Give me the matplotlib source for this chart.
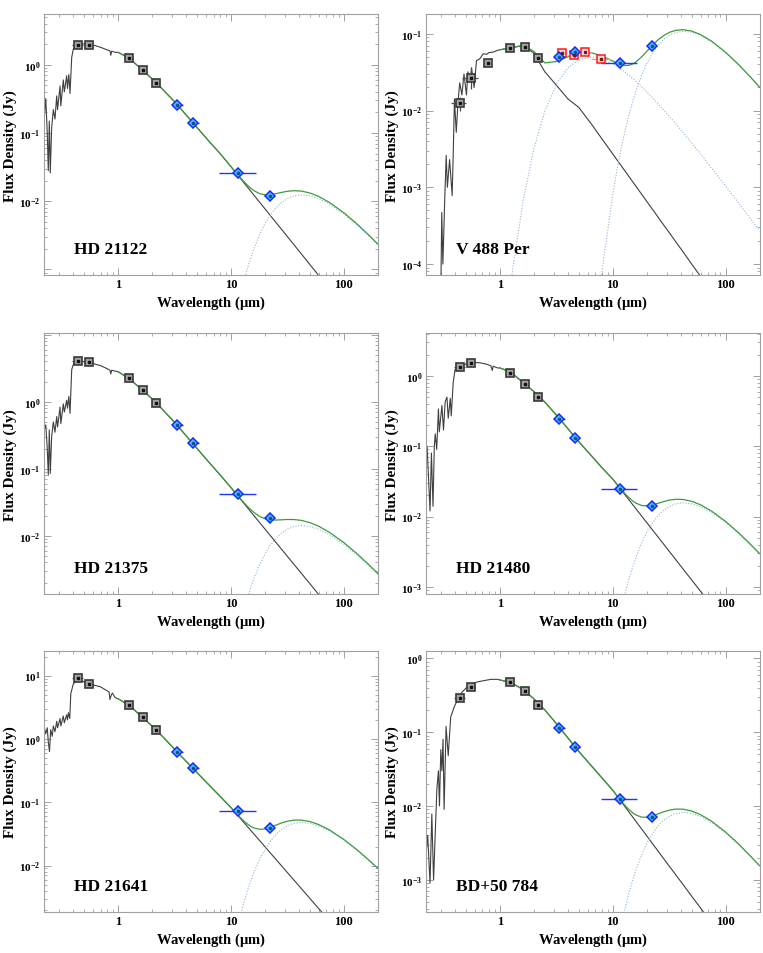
import numpy as np
import matplotlib
matplotlib.use('Agg')
import matplotlib.pyplot as plt
from matplotlib.ticker import LogLocator, FuncFormatter, NullFormatter

plt.rcParams['font.family'] = ['Liberation Serif', 'DejaVu Serif']
plt.rcParams['font.weight'] = 'bold'
plt.rcParams['mathtext.fontset'] = 'custom'
plt.rcParams['mathtext.rm'] = 'Liberation Serif:bold'
plt.rcParams['mathtext.bf'] = 'Liberation Serif:bold'
plt.rcParams['mathtext.it'] = 'Liberation Serif:bold'

# common wavelength grid (micron) for the long-wavelength models
LAM_MODEL = [1.0, 1.25, 1.6, 2.0, 2.5, 3.2, 4.0, 5.0, 6.5, 8.0, 10, 11, 12, 13, 14, 15, 16,
             18, 20, 22, 25, 28, 32, 36, 42, 50, 60, 75, 100, 130, 165, 200]

OPT_LAM = [0.44, 0.55, 1.235, 1.662, 2.159]
OPT_LO = [0.39, 0.50, 1.17, 1.56, 2.05]
OPT_HI = [0.49, 0.60, 1.31, 1.77, 2.29]
WISE_LAM = [3.35, 4.6, 11.56, 22.08]
WISE_LO = [3.07, 4.17, 7.8, 20.3]
WISE_HI = [3.78, 5.17, 16.5, 24.2]
IRAC_LAM = [3.55, 4.49, 5.73, 7.87]
IRAC_LO = [3.2, 4.0, 5.0, 6.4]
IRAC_HI = [3.9, 5.0, 6.4, 9.4]

# ---------------- HD 21122
HD21122_UV_LAM = [0.222, 0.228, 0.235, 0.24, 0.245, 0.25, 0.257, 0.266, 0.275, 0.285, 0.29, 0.305,
                  0.31, 0.326, 0.333, 0.349, 0.355, 0.365, 0.374, 0.387, 0.40, 0.414, 0.44, 0.48,
                  0.53, 0.60, 0.70, 0.80, 0.845, 0.86, 0.875, 0.95]
HD21122_UV_FLUX = [0.18, 0.32, 0.1, 0.028, 0.15, 0.026, 0.12, 0.22, 0.16, 0.35, 0.22, 0.49,
                   0.25, 0.6, 0.4, 0.69, 0.45, 0.72, 0.38, 1.28, 1.7, 1.85, 1.95, 2.02,
                   2.05, 1.95, 1.8, 1.65, 1.6, 1.38, 1.58, 1.52]
HD21122_STAR = [1.52, 1.25, 0.87, 0.62, 0.43, 0.281, 0.184, 0.12, 0.073, 0.050, 0.032, 0.0263,
                0.0220, 0.01869, 0.01605, 0.01394, 0.01221, 0.00959, 0.00773, 0.00636, 0.00489,
                0.00388, 0.00295, 0.00232, 0.00169, 0.00118, 8.12e-4, 5.14e-4, 2.85e-4, 1.66e-4,
                1.02e-4, 6.9e-5]
HD21122_DUST = [1e-12, 1e-12, 1e-12, 1e-12, 1e-12, 1e-12, 1e-12, 4.6e-9, 5.3e-7, 9.0e-6, 9.3e-5,
                2.09e-4, 3.97e-4, 6.76e-4, 1.047e-3, 1.50e-3, 2.04e-3, 3.30e-3, 4.69e-3, 6.09e-3,
                8.02e-3, 9.59e-3, 0.01109, 0.01195, 0.0124, 0.01203, 0.01092, 0.00903, 0.00649,
                0.00452, 0.00313, 0.00229]
HD21122_OPT = [1.92, 1.96, 1.25, 0.83, 0.545]
HD21122_WISE = [0.26, 0.14, 0.0257, 0.0121]

# ---------------- V 488 Per
V488_UV_LAM = [0.24, 0.29, 0.30, 0.305, 0.312, 0.325, 0.334, 0.342, 0.358, 0.377, 0.386, 0.395,
               0.41, 0.425, 0.44, 0.46, 0.48, 0.505, 0.52, 0.545, 0.56, 0.59, 0.62, 0.66, 0.71,
               0.76, 0.80, 0.88, 0.95]
V488_UV_FLUX = [1e-5, 1e-5, 6e-5, 4.7e-4, 1e-4, 8e-4, 2.6e-3, 1.0e-3, 2.3e-3, 7.8e-4, 3e-3, 0.0142,
                5.2e-3, 0.013, 0.023, 0.016, 0.03, 0.016, 0.032, 0.024, 0.036, 0.020, 0.045, 0.047,
                0.055, 0.054, 0.057, 0.058, 0.061]
V488_STAR = [0.062, 0.066, 0.070, 0.056, 0.032, 0.021, 0.0142, 0.011, 0.0066, 0.0043, 0.00272,
             2.237e-3, 1.871e-3, 1.588e-3, 1.365e-3, 1.185e-3, 1.038e-3, 8.15e-4, 6.57e-4, 5.4e-4,
             4.16e-4, 3.29e-4, 2.51e-4, 1.97e-4, 1.44e-4, 1.0e-4, 6.91e-5, 4.37e-5, 2.42e-5,
             1.41e-5, 8.7e-6, 5.8e-6]
V488_WARM = [3.1e-6, 5.9e-5, 6.56e-4, 3.19e-3, 9.85e-3, 0.0227, 0.0361, 0.0461, 0.05, 0.0472,
             0.0406, 0.0372, 0.0341, 0.0312, 0.0285, 0.0262, 0.0241, 0.0205, 0.01754, 0.0152,
             0.01244, 0.01035, 0.00828, 0.00678, 0.00517, 0.00378, 0.00272, 0.00179, 0.00104,
             6.28e-4, 3.95e-4, 2.72e-4]
V488_COOL = [1e-12, 1e-12, 1e-12, 1e-12, 1e-12, 1e-12, 1e-12, 4e-8, 4.6e-6, 7.84e-5, 8.07e-4,
             1.82e-3, 3.46e-3, 5.89e-3, 9.12e-3, 0.01307, 0.0178, 0.02877, 0.04082, 0.05307,
             0.06984, 0.08355, 0.09655, 0.1041, 0.108, 0.1048, 0.09515, 0.07868, 0.05655,
             0.03934, 0.0273, 0.01996]
V488_OPT_LAM = [0.44, 0.55, 0.79, 1.235, 1.662, 2.159]
V488_OPT_LO = [0.37, 0.46, 0.75, 1.17, 1.56, 2.05]
V488_OPT_HI = [0.50, 0.64, 0.84, 1.31, 1.77, 2.29]
V488_OPT = [0.0125, 0.0268, 0.0419, 0.0657, 0.0684, 0.049]
V488_OPT_YLO = [0.0100, 0.019, 0.038, 0.062, 0.065, 0.046]
V488_OPT_YHI = [0.0149, 0.037, 0.046, 0.069, 0.072, 0.052]
V488_WISE = [0.0501, 0.0577, 0.0415, 0.0705]
V488_IRAC = [0.056, 0.0537, 0.0577, 0.0472]

# ---------------- HD 21375
HD21375_UV_LAM = HD21122_UV_LAM
HD21375_UV_FLUX = [0.4, 0.45, 0.2, 0.08, 0.38, 0.085, 0.3, 0.5, 0.35, 0.6, 0.42, 0.83,
                   0.47, 0.93, 0.7, 1.05, 0.8, 1.2, 0.67, 3.0, 3.6, 3.9, 4.15, 4.0,
                   3.9, 3.7, 3.45, 3.1, 2.95, 2.6, 2.95, 2.85]
HD21375_STAR = [2.8, 2.2, 1.55, 1.10, 0.75, 0.48, 0.31, 0.20, 0.12, 0.081, 0.052, 0.0428, 0.0358,
                0.0304, 0.0261, 0.02265, 0.01984, 0.01558, 0.01256, 0.01033, 0.00795, 0.0063,
                0.00479, 0.00376, 0.00275, 0.00192, 0.00132, 8.36e-4, 4.63e-4, 2.7e-4, 1.66e-4,
                1.12e-4]
HD21375_DUST = [1e-12, 1e-12, 1e-12, 1e-12, 1e-12, 1e-12, 1e-12, 5.3e-9, 6.1e-7, 1.03e-5, 1.06e-4,
                2.39e-4, 4.54e-4, 7.74e-4, 1.2e-3, 1.72e-3, 2.34e-3, 3.78e-3, 5.37e-3, 6.98e-3,
                9.18e-3, 0.01099, 0.0127, 0.01369, 0.0142, 0.01377, 0.01251, 0.01034, 0.00744,
                0.00517, 0.00359, 0.00262]
HD21375_OPT = [4.11, 3.92, 2.23, 1.51, 0.955]
HD21375_WISE = [0.442, 0.243, 0.0414, 0.0183]

# ---------------- HD 21480
HD21480_UV_LAM = [0.22, 0.226, 0.232, 0.24, 0.247, 0.255, 0.262, 0.267, 0.275, 0.285, 0.29, 0.306,
                  0.316, 0.327, 0.339, 0.348, 0.363, 0.37, 0.385, 0.40, 0.42, 0.446, 0.50, 0.55,
                  0.65, 0.75, 0.83, 0.855, 0.87, 0.93, 0.96]
HD21480_UV_FLUX = [0.06, 0.1, 0.04, 0.012, 0.08, 0.014, 0.1, 0.15, 0.09, 0.34, 0.16, 0.38,
                   0.17, 0.43, 0.5, 0.25, 0.48, 0.27, 0.8, 1.24, 1.3, 1.37, 1.48, 1.55,
                   1.55, 1.48, 1.4, 1.2, 1.38, 1.32, 1.3]
HD21480_STAR = [1.30, 1.13, 0.81, 0.60, 0.425, 0.272, 0.178, 0.116, 0.0725, 0.0498, 0.034, 0.0280,
                0.0234, 0.01986, 0.01706, 0.01481, 0.01297, 0.01019, 0.00821, 0.00675, 0.0052,
                0.00412, 0.00313, 0.00246, 0.00179, 0.001255, 8.63e-4, 5.46e-4, 3.03e-4, 1.77e-4,
                1.085e-4, 7.31e-5]
HD21480_DUST = [1e-12, 1e-12, 1e-12, 1e-12, 1e-12, 1e-12, 1e-12, 5.8e-9, 6.8e-7, 1.14e-5, 1.18e-4,
                2.64e-4, 5.02e-4, 8.56e-4, 1.33e-3, 1.9e-3, 2.59e-3, 4.18e-3, 5.93e-3, 7.71e-3,
                0.01015, 0.01215, 0.01404, 0.01513, 0.0157, 0.01523, 0.01383, 0.01144, 0.00822,
                0.00572, 0.00397, 0.0029]
HD21480_OPT = [1.32, 1.55, 1.12, 0.762, 0.51]
HD21480_WISE = [0.242, 0.133, 0.025, 0.0139]

# ---------------- HD 21641
HD21641_UV_LAM = [0.222, 0.228, 0.235, 0.24, 0.246, 0.252, 0.26, 0.266, 0.275, 0.285, 0.29, 0.305,
                  0.31, 0.326, 0.333, 0.349, 0.355, 0.362, 0.372, 0.38, 0.40, 0.42, 0.44, 0.48,
                  0.53, 0.60, 0.69, 0.78, 0.83, 0.845, 0.87, 0.89, 0.93, 0.96]
HD21641_UV_FLUX = [1.48, 1.2, 1.5, 0.9, 0.63, 1.4, 1.1, 1.6, 1.3, 1.9, 1.5, 2.1,
                   1.6, 2.3, 1.8, 2.4, 2.0, 2.6, 2.1, 5.2, 7.4, 8.0, 8.4, 8.2,
                   7.6, 7.1, 6.7, 5.9, 5.5, 4.2, 5.0, 5.3, 4.6, 4.4]
HD21641_STAR = [4.3, 3.4, 2.29, 1.59, 1.07, 0.673, 0.443, 0.293, 0.181, 0.124, 0.082, 0.06745,
                0.0564, 0.0479, 0.04114, 0.03571, 0.03129, 0.02458, 0.0198, 0.01629, 0.01254,
                0.00993, 0.00755, 0.00594, 0.00433, 0.00303, 0.00208, 0.00132, 7.31e-4, 4.26e-4,
                2.62e-4, 1.76e-4]
HD21641_DUST = [1e-12, 1e-12, 1e-12, 1e-12, 1e-12, 1e-12, 1e-12, 1.8e-8, 2.06e-6, 3.48e-5, 3.6e-4,
                8.07e-4, 1.54e-3, 2.62e-3, 4.05e-3, 5.81e-3, 7.91e-3, 0.01279, 0.01814, 0.02359,
                0.03104, 0.03713, 0.04291, 0.04627, 0.048, 0.04656, 0.04229, 0.03497, 0.02513,
                0.01749, 0.01213, 0.00887]
HD21641_OPT = [9.1, 7.5, 3.44, 2.2, 1.37]
HD21641_WISE = [0.616, 0.353, 0.072, 0.0388]

# ---------------- BD+50 784
BD50_UV_LAM = [0.22, 0.229, 0.24, 0.249, 0.258, 0.276, 0.285, 0.291, 0.299, 0.306, 0.313, 0.32,
               0.333, 0.348, 0.366, 0.393, 0.424, 0.462, 0.53, 0.63, 0.83, 0.95]
BD50_UV_FLUX = [2e-3, 4e-3, 9e-4, 7.8e-3, 1e-3, 0.017, 0.03, 0.01, 0.058, 0.03, 0.08, 0.009,
                0.12, 0.048, 0.16, 0.22, 0.28, 0.35, 0.43, 0.48, 0.52, 0.52]
BD50_STAR = [0.51, 0.47, 0.379, 0.283, 0.20, 0.128, 0.0837, 0.0548, 0.0347, 0.0241, 0.0163,
             0.01341, 0.01121, 0.00952, 0.00818, 0.0071, 0.00622, 0.00489, 0.00394, 0.00324,
             0.00249, 0.00197, 0.0015, 0.00118, 8.61e-4, 6.01e-4, 4.14e-4, 2.62e-4, 1.45e-4,
             8.48e-5, 5.2e-5, 3.5e-5]
BD50_DUST = [1e-12, 1e-12, 1e-12, 1e-12, 1e-12, 1e-12, 1e-12, 3e-9, 3.5e-7, 5.95e-6, 6.15e-5,
             1.38e-4, 2.62e-4, 4.47e-4, 6.92e-4, 9.92e-4, 1.35e-3, 2.18e-3, 3.1e-3, 4.03e-3,
             5.3e-3, 6.34e-3, 7.33e-3, 7.9e-3, 0.0082, 7.95e-3, 7.22e-3, 5.97e-3, 4.29e-3,
             2.99e-3, 2.07e-3, 1.52e-3]
BD50_OPT = [0.295, 0.404, 0.472, 0.364, 0.237]
BD50_WISE = [0.114, 0.0624, 0.01225, 0.0072]

STAR_COLOR = '#404040'
TOTAL_COLOR = '#3f9a3f'
DUST_COLOR = '#8fb4dc'
FRAME_COLOR = '#a0a0a0'


def decade_formatter(shown):
    def fmt(v, pos):
        e = int(round(np.log10(v)))
        if e in shown:
            return r'$\mathbf{10^{%d}}$' % e
        return ''
    return FuncFormatter(fmt)


def draw_panel(ax, name, uv_lam, uv_flux, star, dusts, opt, wise, ylim, shown,
               opt_lam=OPT_LAM, opt_lo=OPT_LO, opt_hi=OPT_HI, opt_ylo=None, opt_yhi=None,
               irac=None):
    lam = np.array(LAM_MODEL)
    star = np.array(star)
    total = star.copy()
    for d in dusts:
        total = total + np.array(d)

    ax.plot(list(uv_lam) + LAM_MODEL, list(uv_flux) + list(star), color=STAR_COLOR, lw=0.8,
            zorder=2)
    for d in dusts:
        ax.plot(lam, d, color=DUST_COLOR, lw=0.8, ls=(0, (1, 1.5)), zorder=2)
    ax.plot(lam, total, color=TOTAL_COLOR, lw=0.9, zorder=3)

    # photometry
    ol = np.array(opt_lam)
    of = np.array(opt)
    yerr = None
    if opt_ylo is not None:
        yerr = [of - np.array(opt_ylo), np.array(opt_yhi) - of]
    ax.errorbar(ol, of, xerr=[ol - np.array(opt_lo), np.array(opt_hi) - ol], yerr=yerr,
                fmt='none', ecolor='#505050', elinewidth=0.9, capsize=0, zorder=4)
    ax.plot(ol, of, 's', ms=5.8, mfc='#a2a2a2', mec='#383838', mew=1.2, zorder=5)
    ax.plot(ol, of, 's', ms=1.6, color='#111111', zorder=6)

    if irac is not None:
        il = np.array(IRAC_LAM)
        ax.errorbar(il, irac, xerr=[il - np.array(IRAC_LO), np.array(IRAC_HI) - il],
                    fmt='none', ecolor='#ff9090', elinewidth=0.9, capsize=0, zorder=4)
        ax.plot(il, irac, 's', ms=5.8, mfc='#ffd8d8', mec='#ff1a1a', mew=1.1, zorder=5)
        ax.plot(il, irac, 's', ms=1.6, color='#602020', zorder=6)

    wl = np.array(WISE_LAM)
    ax.errorbar(wl, wise, xerr=[wl - np.array(WISE_LO), np.array(WISE_HI) - wl],
                fmt='none', ecolor='#2035ff', elinewidth=1.0, capsize=0, zorder=4)
    ax.plot(wl, wise, 'D', ms=5.5, mfc='#38c8ff', mec='#1a28ff', mew=1.1, zorder=5)
    ax.plot(wl, wise, 'o', ms=1.6, color='#1a4a80', zorder=6)

    ax.set_xscale('log')
    ax.set_yscale('log')
    ax.set_xlim(0.22, 200)
    ax.set_ylim(*ylim)

    ax.xaxis.set_major_locator(LogLocator(base=10, numticks=10))
    ax.xaxis.set_minor_locator(LogLocator(base=10, subs=np.arange(2, 10), numticks=20))
    ax.xaxis.set_major_formatter(FuncFormatter(lambda v, p: '%g' % v if v >= 1 else ''))
    ax.xaxis.set_minor_formatter(NullFormatter())
    ax.yaxis.set_major_locator(LogLocator(base=10, numticks=15))
    ax.yaxis.set_minor_locator(LogLocator(base=10, subs=np.arange(2, 10), numticks=30))
    ax.yaxis.set_major_formatter(decade_formatter(shown))
    ax.yaxis.set_minor_formatter(NullFormatter())

    ax.tick_params(which='both', direction='in', top=True, right=True, color=FRAME_COLOR)
    ax.tick_params(axis='x', labelsize=9)
    ax.tick_params(axis='y', labelsize=8)
    ax.tick_params(which='major', length=5, width=0.7, pad=2.5)
    ax.tick_params(which='minor', length=2.5, width=0.6)
    for s in ax.spines.values():
        s.set_color(FRAME_COLOR)
        s.set_linewidth(0.8)

    ax.set_xlabel(r'Wavelength ($\mathbf{\mu}$m)', fontsize=10.5, fontweight='bold')
    ax.set_ylabel('Flux Density (Jy)', fontsize=11, fontweight='bold')
    ax.xaxis.set_label_coords(0.5, -0.072)
    ax.yaxis.set_label_coords(-0.08, 0.5)
    ax.text(0.09, 0.10, name, transform=ax.transAxes, fontsize=12.5, fontweight='bold',
            ha='left', va='center')


fig = plt.figure(figsize=(7.63, 9.54), dpi=100)
col_left = [0.0577, 0.558]
row_bottom = [0.7107, 0.3763, 0.0433]
w, h = 0.4375, 0.2733

ax1 = fig.add_axes([col_left[0], row_bottom[0], w, h])
draw_panel(ax1, 'HD 21122', HD21122_UV_LAM, HD21122_UV_FLUX, HD21122_STAR, [HD21122_DUST],
           HD21122_OPT, HD21122_WISE, (8.3e-4, 5.5), [-2, -1, 0])

ax2 = fig.add_axes([col_left[1], row_bottom[0], w, h])
draw_panel(ax2, 'V 488 Per', V488_UV_LAM, V488_UV_FLUX, V488_STAR, [V488_WARM, V488_COOL],
           V488_OPT, V488_WISE, (7.2e-5, 0.18), [-4, -3, -2, -1],
           opt_lam=V488_OPT_LAM, opt_lo=V488_OPT_LO, opt_hi=V488_OPT_HI,
           opt_ylo=V488_OPT_YLO, opt_yhi=V488_OPT_YHI, irac=V488_IRAC)

ax3 = fig.add_axes([col_left[0], row_bottom[1], w, h])
draw_panel(ax3, 'HD 21375', HD21375_UV_LAM, HD21375_UV_FLUX, HD21375_STAR, [HD21375_DUST],
           HD21375_OPT, HD21375_WISE, (1.35e-3, 10.5), [-2, -1, 0])

ax4 = fig.add_axes([col_left[1], row_bottom[1], w, h])
draw_panel(ax4, 'HD 21480', HD21480_UV_LAM, HD21480_UV_FLUX, HD21480_STAR, [HD21480_DUST],
           HD21480_OPT, HD21480_WISE, (7.9e-4, 4.05), [-3, -2, -1, 0])

ax5 = fig.add_axes([col_left[0], row_bottom[2], w, h])
draw_panel(ax5, 'HD 21641', HD21641_UV_LAM, HD21641_UV_FLUX, HD21641_STAR, [HD21641_DUST],
           HD21641_OPT, HD21641_WISE, (1.87e-3, 24.5), [-2, -1, 0, 1])

ax6 = fig.add_axes([col_left[1], row_bottom[2], w, h])
draw_panel(ax6, 'BD+50 784', BD50_UV_LAM, BD50_UV_FLUX, BD50_STAR, [BD50_DUST],
           BD50_OPT, BD50_WISE, (3.7e-4, 1.26), [-3, -2, -1, 0])

fig.savefig('out.png', dpi=100)
